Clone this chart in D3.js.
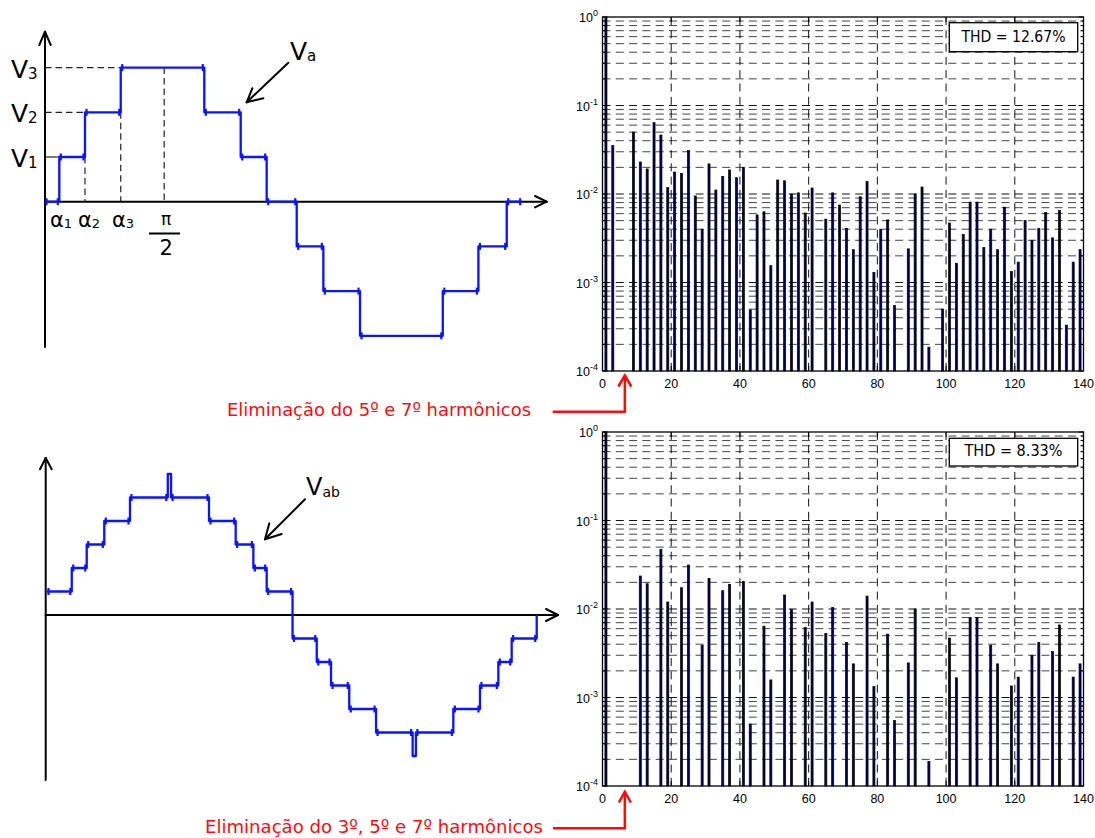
<!DOCTYPE html>
<html>
<head>
<meta charset="utf-8">
<script src="https://cdn.jsdelivr.net/npm/d3@7"></script>
<style>
  html, body { margin: 0; padding: 0; background: #fff; }
  svg { display: block; }
  .hand { font-family: "DejaVu Sans", "Noto Sans", sans-serif; }
  .tick { font-family: "Liberation Sans", Arial, sans-serif; font-size: 12.5px; fill: #000; }
</style>
</head>
<body>
<svg id="fig" width="1095" height="838"></svg>
<script>
// ---- Phase voltage Va: step transitions (angle in degrees, level after the step)
const phaseSteps = [
  [0, 0], [10.8, 1], [30.2, 2], [57.2, 3], [120.3, 2], [147.8, 1], [167.4, 0],
  [190.1, -1], [210.2, -2], [237.9, -3], [300.4, -2], [327.3, -1], [348.7, 0], [360, 0]
];

// ---- Line voltage Vab: step transitions (angle in degrees, level after the step)
const lineSteps = [
  [0, 1], [18.2, 2], [29.2, 3], [42.1, 4], [61.0, 5], [88.8, 6], [91.2, 5],
  [119.1, 4], [138.7, 3], [151.7, 2], [161.5, 1], [180.5, -1],
  [198.3, -2], [208.8, -3], [222.2, -4], [241.9, -5], [268.8, -6], [271.2, -5],
  [298.7, -4], [318.3, -3], [331.8, -2], [341.6, -1], [360, 0]
];

// ---- Spectrum of Va (5th and 7th eliminated)
const phaseHarmonics = [
  1, 3, 9, 11, 13, 15, 17, 19, 21, 23,
  25, 27, 29, 31, 33, 35, 37, 39, 41, 43,
  45, 47, 49, 51, 53, 55, 57, 59, 61, 65,
  67, 69, 71, 73, 75, 77, 79, 81, 83, 85,
  89, 91, 93, 95, 99, 101, 103, 105, 107, 109,
  111, 113, 115, 117, 119, 121, 123, 125, 127, 129,
  131, 133, 135, 137, 139
];
const phaseAmplitudes = [
  1, 0.0352, 0.050, 0.023, 0.0192, 0.064, 0.0464, 0.0118, 0.0177, 0.0171,
  0.0309, 0.0095, 0.0040, 0.0219, 0.0111, 0.0158, 0.0187, 0.0153, 0.0199, 0.00049,
  0.0058, 0.0063, 0.00155, 0.0144, 0.0141, 0.0100, 0.0103, 0.0061, 0.0117, 0.0052,
  0.0103, 0.0075, 0.0041, 0.00235, 0.0093, 0.0138, 0.0013, 0.0040, 0.0051, 0.00055,
  0.0024, 0.0100, 0.0120, 0.000186, 0.0005, 0.0047, 0.00165, 0.0035, 0.0081, 0.0081,
  0.00248, 0.0040, 0.00235, 0.0071, 0.00133, 0.0017, 0.0050, 0.0030, 0.0041, 0.0062,
  0.0032, 0.0065, 0.00033, 0.0017, 0.00235
];

// ---- Spectrum of Vab (3rd, 5th and 7th eliminated)
const lineHarmonics = [
  1, 11, 13, 17, 19, 23, 25, 29, 31, 35,
  37, 41, 43, 47, 49, 53, 55, 59, 61, 65,
  67, 71, 73, 77, 79, 83, 85, 89, 91, 95,
  101, 103, 107, 109, 113, 115, 119, 121, 125, 127,
  131, 133, 137, 139
];
const lineAmplitudes = [
  1, 0.0236, 0.0193, 0.0472, 0.0120, 0.0174, 0.0314, 0.0039, 0.0222, 0.0161,
  0.0190, 0.0204, 0.0005, 0.0064, 0.00158, 0.0144, 0.0099, 0.0062, 0.0120, 0.0053,
  0.0104, 0.0042, 0.0024, 0.0140, 0.00133, 0.0052, 0.00055, 0.00246, 0.0100, 0.00019,
  0.0047, 0.00167, 0.0080, 0.0080, 0.0039, 0.0024, 0.00135, 0.0017, 0.0030, 0.0042,
  0.0033, 0.0066, 0.0017, 0.0024
];

const xTicks = [0, 20, 40, 60, 80, 100, 120, 140];
const yDecades = [-4, -3, -2, -1, 0];
const thdLabels = ["THD = 12.67%", "THD = 8.33%"];
const captions = ["Eliminação do 5º e 7º harmônicos", "Eliminação do 3º, 5º e 7º harmônicos"];

const svg = d3.select("#fig");
const BLUE = "#0a14ff";

// ===== Spectrum panels =====
function spectrum(top, bottom, harmonics, amps, thd, thdBox, thdTextW) {
  const x = d3.scaleLinear().domain([0, 140]).range([602.5, 1083.5]);
  const y = d3.scaleLog().domain([1e-4, 1]).range([bottom, top]);
  const g = svg.append("g");

  // log grid (major and minor lines)
  const gridVals = [];
  yDecades.forEach(k => {
    if (k === 0) return;
    for (let m = 1; m <= 9; m++) gridVals.push({ v: m * Math.pow(10, k), major: m === 1 });
  });
  g.selectAll("line.hg").data(gridVals.filter(d => d.v > 1e-4)).join("line")
    .attr("x1", x(0)).attr("x2", x(140))
    .attr("y1", d => y(d.v)).attr("y2", d => y(d.v))
    .attr("stroke", d => d.major ? "#111" : "#444")
    .attr("stroke-width", 1)
    .attr("stroke-dasharray", "8,5.3");
  g.selectAll("line.vg").data(xTicks.slice(1, -1)).join("line")
    .attr("x1", d => x(d)).attr("x2", d => x(d))
    .attr("y1", top).attr("y2", bottom)
    .attr("stroke", "#111").attr("stroke-width", 1)
    .attr("stroke-dasharray", "8,5.3");

  // bars
  const data = harmonics.map((h, i) => ({ h, a: amps[i] }));
  g.selectAll("rect.bar").data(data).join("rect")
    .attr("x", d => x(d.h - 0.3))
    .attr("width", d => x(d.h + 0.3) - x(d.h - 0.3))
    .attr("y", d => y(d.a))
    .attr("height", d => y(1e-4) - y(d.a))
    .attr("fill", "#000060")
    .attr("stroke", "#000")
    .attr("stroke-width", 0.7);

  // frame
  g.append("rect").attr("x", x(0)).attr("y", top)
    .attr("width", x(140) - x(0)).attr("height", bottom - top)
    .attr("fill", "none").attr("stroke", "#000").attr("stroke-width", 1.3);

  // y ticks (inward, both sides)
  const tickVals = gridVals.filter(d => d.v > 1e-4).concat([{ v: 1e-4, major: true }, { v: 1, major: true }]);
  tickVals.forEach(d => {
    const len = d.major ? 5 : 3;
    g.append("line").attr("x1", x(0)).attr("x2", x(0) + len)
      .attr("y1", y(d.v)).attr("y2", y(d.v)).attr("stroke", "#000").attr("stroke-width", 1);
    g.append("line").attr("x1", x(140)).attr("x2", x(140) - len)
      .attr("y1", y(d.v)).attr("y2", y(d.v)).attr("stroke", "#000").attr("stroke-width", 1);
  });
  // x ticks (inward, both sides)
  xTicks.forEach(t => {
    g.append("line").attr("x1", x(t)).attr("x2", x(t)).attr("y1", bottom).attr("y2", bottom - 5)
      .attr("stroke", "#000");
    g.append("line").attr("x1", x(t)).attr("x2", x(t)).attr("y1", top).attr("y2", top + 5)
      .attr("stroke", "#000");
  });

  // tick labels
  g.selectAll("text.xl").data(xTicks).join("text")
    .attr("class", "tick").attr("text-anchor", "middle")
    .attr("x", d => x(d)).attr("y", bottom + 16.5)
    .text(d => d);
  yDecades.forEach(k => {
    const t = g.append("text").attr("class", "tick").attr("text-anchor", "end")
      .attr("x", 598).attr("y", y(Math.pow(10, k)) + 5);
    t.append("tspan").text("10");
    t.append("tspan").attr("dy", -6).attr("font-size", "9px").text(k);
  });

  // THD box
  g.append("rect").attr("x", thdBox[0]).attr("y", thdBox[1])
    .attr("width", thdBox[2] - thdBox[0]).attr("height", thdBox[3] - thdBox[1])
    .attr("fill", "#fff").attr("stroke", "#000").attr("stroke-width", 1.3);
  g.append("text").attr("class", "hand")
    .attr("x", (thdBox[0] + thdBox[2]) / 2).attr("y", thdBox[3] - 10)
    .attr("text-anchor", "middle").attr("font-size", "15px")
    .attr("textLength", thdTextW).attr("lengthAdjust", "spacingAndGlyphs")
    .text(thd);
  return { x, y };
}

const topSpec = spectrum(17, 371, phaseHarmonics, phaseAmplitudes, thdLabels[0], [949.3, 22.7, 1077.7, 51.7], 104);
const botSpec = spectrum(432, 786, lineHarmonics, lineAmplitudes, thdLabels[1], [949.3, 438.3, 1077.7, 466], 98);

// ===== Helpers for hand-drawn style axes =====
function arrowLine(g, x1, y1, x2, y2, color, w, head) {
  g.append("line").attr("x1", x1).attr("y1", y1).attr("x2", x2).attr("y2", y2)
    .attr("stroke", color).attr("stroke-width", w).attr("stroke-linecap", "round");
  head.forEach(p => {
    g.append("line").attr("x1", x2).attr("y1", y2).attr("x2", p[0]).attr("y2", p[1])
      .attr("stroke", color).attr("stroke-width", w).attr("stroke-linecap", "round");
  });
}

function stepWave(g, steps, x, y) {
  const line = d3.line().curve(d3.curveStepAfter).x(d => x(d[0])).y(d => y(d[1]));
  g.append("path").attr("d", line(steps)).attr("fill", "none")
    .attr("stroke", BLUE).attr("stroke-width", 2.3).attr("stroke-linejoin", "round");
  // switching ripple at the ends of each flat step
  const marks = [];
  for (let i = 0; i < steps.length - 1; i++) {
    const a0 = steps[i][0], a1 = steps[i + 1][0], v = steps[i][1];
    if (x(a1) - x(a0) < 8) continue;
    marks.push([x(a0) + 1.5, y(v)], [x(a1) - 1.5, y(v)]);
  }
  g.selectAll(null).data(marks).join("line")
    .attr("x1", d => d[0]).attr("x2", d => d[0])
    .attr("y1", d => d[1] - 3.5).attr("y2", d => d[1] + 3.5)
    .attr("stroke", BLUE).attr("stroke-width", 2.2);
}

// ===== Phase voltage Va =====
{
  const g = svg.append("g");
  const x = d3.scaleLinear().domain([0, 360]).range([45, 521.7]);
  const y = d3.scaleLinear().domain([-3, 3]).range([201.7 + 3 * 44.7, 201.7 - 3 * 44.7]);

  // guide lines
  const dash = "6.5,4";
  const guides = [
    [x(0), y(3), x(57.2), y(3)],
    [x(0), y(2), x(30.2), y(2)],
    [x(30.2), y(1), x(30.2), y(0)],
    [x(57.2), y(2), x(57.2), y(0)],
    [x(90), y(3), x(90), y(0)]
  ];
  guides.forEach(d => g.append("line").attr("x1", d[0]).attr("y1", d[1]).attr("x2", d[2]).attr("y2", d[3])
    .attr("stroke", "#222").attr("stroke-width", 1.2).attr("stroke-dasharray", dash));
  g.append("line").attr("x1", x(0)).attr("y1", y(1)).attr("x2", x(10.8)).attr("y2", y(1))
    .attr("stroke", "#222").attr("stroke-width", 1.2);

  // axes
  arrowLine(g, 45, 347, 45, 31.7, "#000", 2, [[39.3, 45], [50.7, 45]]);
  arrowLine(g, 45, y(0), 546.7, y(0), "#000", 2, [[535, y(0) - 5.7], [535, y(0) + 5.7]]);

  stepWave(g, phaseSteps, x, y);

  // level labels
  [[3, "3"], [2, "2"], [1, "1"]].forEach(([v, s]) => {
    const t = g.append("text").attr("class", "hand").attr("x", 11).attr("y", y(v) + 10)
      .attr("font-size", "25px");
    t.append("tspan").text("V");
    t.append("tspan").attr("font-size", "15px").attr("dy", 1).text(s);
  });
  // angle labels
  [[10.8, "1", 50], [30.2, "2", 78], [57.2, "3", 112]].forEach(([a, s, px]) => {
    const t = g.append("text").attr("class", "hand").attr("x", px).attr("y", 227)
      .attr("font-size", "21px");
    t.append("tspan").text("α");
    t.append("tspan").attr("font-size", "13px").attr("dy", 1).text(s);
  });
  g.append("text").attr("class", "hand").attr("x", x(90) + 2).attr("y", 225)
    .attr("text-anchor", "middle").attr("font-size", "17px").text("π");
  g.append("line").attr("x1", 149).attr("x2", 180).attr("y1", 233.5).attr("y2", 233.5)
    .attr("stroke", "#000").attr("stroke-width", 2);
  g.append("text").attr("class", "hand").attr("x", x(90) + 2).attr("y", 255)
    .attr("text-anchor", "middle").attr("font-size", "21px").text("2");

  // Va label and pointer
  const t = g.append("text").attr("class", "hand").attr("x", 290).attr("y", 60).attr("font-size", "25px");
  t.append("tspan").text("V");
  t.append("tspan").attr("font-size", "15px").attr("dy", 1).text("a");
  arrowLine(g, 288.3, 62.7, 246.7, 102.3, "#000", 2, [[252.3, 88.3], [263.3, 98.3]]);
}

// ===== Line voltage Vab =====
{
  const g = svg.append("g");
  const x = d3.scaleLinear().domain([0, 360]).range([47, 536.7]);
  const y = d3.scaleLinear().domain([-6, 6]).range([615 + 6 * 23.5, 615 - 6 * 23.5]);

  arrowLine(g, 45.7, 780, 45.7, 458, "#000", 2, [[40, 469.3], [51.7, 469.3]]);
  arrowLine(g, 45.7, y(0), 558, y(0), "#000", 2, [[546, y(0) - 6], [546, y(0) + 6]]);

  stepWave(g, lineSteps, x, y);

  const t = g.append("text").attr("class", "hand").attr("x", 306).attr("y", 495).attr("font-size", "24px");
  t.append("tspan").text("V");
  t.append("tspan").attr("font-size", "14px").attr("dy", 2).text("ab");
  arrowLine(g, 305, 499.3, 265, 539.3, "#000", 2, [[269.3, 523.3], [281.7, 534]]);
}

// ===== Red captions with pointers to the spectra =====
{
  const g = svg.append("g");
  const RED = "#ff0a0a";
  g.append("text").attr("class", "hand").attr("x", 227).attr("y", 416)
    .attr("font-size", "18px").attr("fill", RED)
    .attr("textLength", 304).attr("lengthAdjust", "spacingAndGlyphs")
    .text(captions[0]);
  const ax1 = topSpec.x(6.5);
  g.append("polyline").attr("points", `552.7,411.7 ${ax1},411.7 ${ax1},375.5`)
    .attr("fill", "none").attr("stroke", RED).attr("stroke-width", 2.5);
  g.append("polyline").attr("points", `${ax1 - 6.5},386.5 ${ax1},375.5 ${ax1 + 6.5},386.5`)
    .attr("fill", "none").attr("stroke", RED).attr("stroke-width", 2.5);

  g.append("text").attr("class", "hand").attr("x", 205).attr("y", 833)
    .attr("font-size", "18px").attr("fill", RED)
    .attr("textLength", 338).attr("lengthAdjust", "spacingAndGlyphs")
    .text(captions[1]);
  const ax2 = botSpec.x(6.5);
  g.append("polyline").attr("points", `553,828.3 ${ax2},828.3 ${ax2},791.7`)
    .attr("fill", "none").attr("stroke", RED).attr("stroke-width", 2.5);
  g.append("polyline").attr("points", `${ax2 - 6},802.5 ${ax2},791.7 ${ax2 + 6},802.5`)
    .attr("fill", "none").attr("stroke", RED).attr("stroke-width", 2.5);
}
</script>
</body>
</html>
